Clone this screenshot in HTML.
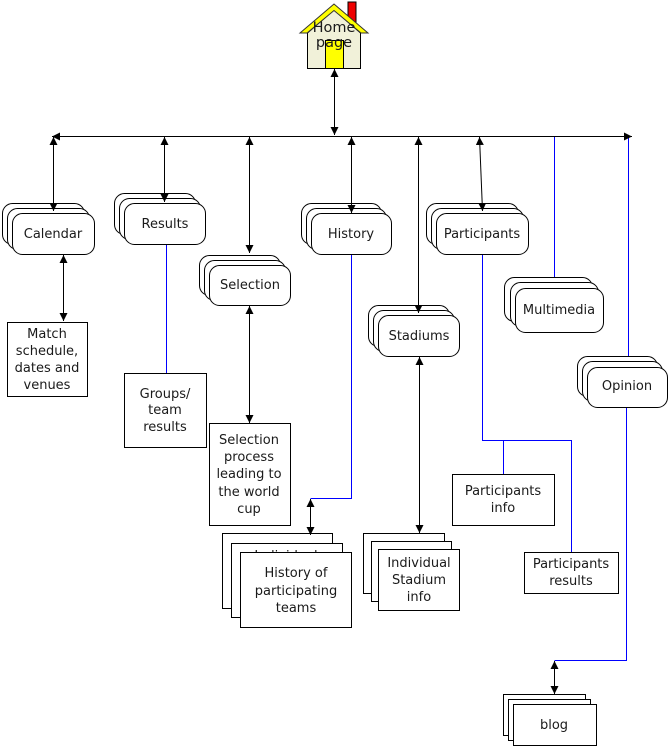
<!DOCTYPE html>
<html><head><meta charset="utf-8"><style>
html,body{margin:0;padding:0;background:#fff;}
svg{display:block;}
text{font-family:"DejaVu Sans","Liberation Sans",sans-serif;font-size:13px;fill:#1a1a1a;text-anchor:middle;}
.b{fill:#fff;stroke:#000;stroke-width:1;}
.l{stroke:#000;stroke-width:1;fill:none;}
.u{stroke:#0000ff;stroke-width:1;fill:none;}
</style></head><body>
<svg width="669" height="747" viewBox="0 0 669 747" xmlns="http://www.w3.org/2000/svg">
<defs>
<marker id="ae" markerUnits="userSpaceOnUse" markerWidth="8" markerHeight="8" viewBox="0 0 8 8" refX="8" refY="4" orient="auto"><path d="M0,0 L8,4 L0,8 z" fill="#000"/></marker>
<marker id="as" markerUnits="userSpaceOnUse" markerWidth="8" markerHeight="8" viewBox="0 0 8 8" refX="0" refY="4" orient="auto"><path d="M8,0 L0,4 L8,8 z" fill="#000"/></marker>
</defs>

<!-- House -->
<rect x="348" y="2" width="8" height="22" fill="#ee0000" stroke="#000"/>
<polygon points="307.5,33 334,10 360.5,33 360.5,68.5 307.5,68.5" fill="#f1f1d9" stroke="#000"/>
<polygon points="300,33 334,4 368,33 361,33 334,10.5 307,33" fill="#ffff00" stroke="#333" stroke-width="1"/>
<rect x="325.5" y="40.5" width="18" height="28" fill="#ffff00" stroke="#000"/>
<text x="334" y="32" style="font-size:14.5px">Home</text>
<text x="334" y="47" style="font-size:14.5px">page</text>

<!-- blue lines -->
<line class="u" x1="554.5" y1="137" x2="554.5" y2="278"/>
<line class="u" x1="628.5" y1="137" x2="628.5" y2="357"/>
<line class="u" x1="615" y1="356.5" x2="628.5" y2="356.5"/>

<!-- Calendar -->
<rect class="b" x="2.5" y="203.5" width="82" height="41" rx="10"/>
<rect class="b" x="7.5" y="208.5" width="82" height="41" rx="10"/>
<rect class="b" x="12.5" y="213.5" width="82" height="41" rx="10"/>
<text x="53" y="238">Calendar</text>

<!-- Results -->
<rect class="b" x="114.5" y="193.5" width="81" height="41" rx="10"/>
<rect class="b" x="119.5" y="198.5" width="81" height="41" rx="10"/>
<rect class="b" x="124.5" y="203.5" width="81" height="41" rx="10"/>
<text x="165" y="228">Results</text>

<!-- Selection -->
<rect class="b" x="199.5" y="255.5" width="81" height="40" rx="10"/>
<rect class="b" x="204.5" y="260.5" width="81" height="40" rx="10"/>
<rect class="b" x="209.5" y="265.5" width="81" height="40" rx="10"/>
<text x="250" y="289">Selection</text>

<!-- History -->
<rect class="b" x="301.5" y="203.5" width="80" height="41" rx="10"/>
<rect class="b" x="306.5" y="208.5" width="80" height="41" rx="10"/>
<rect class="b" x="311.5" y="213.5" width="80" height="41" rx="10"/>
<text x="351" y="238">History</text>

<!-- Participants -->
<rect class="b" x="426.5" y="203.5" width="92" height="41" rx="10"/>
<rect class="b" x="431.5" y="208.5" width="92" height="41" rx="10"/>
<rect class="b" x="436.5" y="213.5" width="92" height="41" rx="10"/>
<text x="482" y="238">Participants</text>

<!-- Multimedia -->
<rect class="b" x="504.5" y="277.5" width="88" height="44" rx="10"/>
<rect class="b" x="510.5" y="282.5" width="88" height="44" rx="10"/>
<rect class="b" x="515.5" y="288.5" width="88" height="44" rx="10"/>
<text x="559" y="314">Multimedia</text>

<!-- Stadiums -->
<rect class="b" x="368.5" y="305.5" width="81" height="41" rx="10"/>
<rect class="b" x="373.5" y="310.5" width="81" height="41" rx="10"/>
<rect class="b" x="378.5" y="315.5" width="81" height="41" rx="10"/>
<text x="419" y="340">Stadiums</text>

<!-- Opinion -->
<rect class="b" x="577.5" y="356.5" width="80" height="40" rx="10"/>
<rect class="b" x="582.5" y="361.5" width="80" height="40" rx="10"/>
<rect class="b" x="587.5" y="367.5" width="80" height="40" rx="10"/>
<text x="627" y="390">Opinion</text>

<!-- Match -->
<rect class="b" x="7.5" y="322.5" width="80" height="74"/>
<text x="47" y="338">Match</text>
<text x="47" y="355">schedule,</text>
<text x="47" y="372">dates and</text>
<text x="47" y="389">venues</text>

<!-- Results -> Groups -->
<line class="u" x1="166.5" y1="245" x2="166.5" y2="373"/>
<rect class="b" x="124.5" y="373.5" width="82" height="74"/>
<text x="165" y="398">Groups/</text>
<text x="165" y="414">team</text>
<text x="165" y="431">results</text>

<!-- Selection process -->
<rect class="b" x="209.5" y="423.5" width="81" height="102"/>
<text x="249" y="444">Selection</text>
<text x="249" y="461">process</text>
<text x="249" y="478">leading to</text>
<text x="249" y="496">the world</text>
<text x="249" y="513">cup</text>

<!-- History -> individual -->
<polyline class="u" points="351.5,255 351.5,498.5 310.5,498.5"/>
<rect class="b" x="222.5" y="533.5" width="110" height="75"/>
<rect class="b" x="231.5" y="543.5" width="111" height="74"/>
<text x="286" y="560">Individual</text>
<rect class="b" x="240.5" y="552.5" width="111" height="75"/>
<text x="296" y="577">History of</text>
<text x="296" y="595">participating</text>
<text x="296" y="612">teams</text>

<!-- Individual stadium -->
<rect class="b" x="363.5" y="533.5" width="81" height="60"/>
<rect class="b" x="371.5" y="541.5" width="80" height="60"/>
<rect class="b" x="378.5" y="549.5" width="81" height="61"/>
<text x="419" y="567">Individual</text>
<text x="419" y="584">Stadium</text>
<text x="419" y="601">info</text>

<!-- Participants -> info/results -->
<polyline class="u" points="482.5,255 482.5,440.5 571.5,440.5 571.5,552"/>
<line class="u" x1="503.5" y1="440.5" x2="503.5" y2="474"/>
<rect class="b" x="452.5" y="474.5" width="102" height="51"/>
<text x="503" y="495">Participants</text>
<text x="503" y="512">info</text>
<rect class="b" x="524.5" y="552.5" width="94" height="41"/>
<text x="571" y="568">Participants</text>
<text x="571" y="585">results</text>

<!-- Opinion -> blog -->
<polyline class="u" points="626.5,408 626.5,660.5 554.5,660.5"/>
<rect class="b" x="503.5" y="694.5" width="82" height="41"/>
<rect class="b" x="508.5" y="699.5" width="82" height="41"/>
<rect class="b" x="513.5" y="704.5" width="83" height="41"/>
<text x="554" y="729">blog</text>

<!-- black arrow lines on top -->
<line class="l" x1="52" y1="136.5" x2="632" y2="136.5" marker-start="url(#as)" marker-end="url(#ae)"/>
<line class="l" x1="334.5" y1="69" x2="334.5" y2="135" marker-start="url(#as)" marker-end="url(#ae)"/>
<line class="l" x1="53.5" y1="137" x2="53.5" y2="211" marker-start="url(#as)" marker-end="url(#ae)"/>
<line class="l" x1="164.5" y1="137" x2="164.5" y2="202" marker-start="url(#as)" marker-end="url(#ae)"/>
<line class="l" x1="249.5" y1="137" x2="249.5" y2="253" marker-start="url(#as)" marker-end="url(#ae)"/>
<line class="l" x1="351.5" y1="137" x2="351.5" y2="213" marker-start="url(#as)" marker-end="url(#ae)"/>
<line class="l" x1="418.5" y1="137" x2="418.5" y2="313" marker-start="url(#as)" marker-end="url(#ae)"/>
<line class="l" x1="479.5" y1="137" x2="482.5" y2="211" marker-start="url(#as)" marker-end="url(#ae)"/>
<line class="l" x1="63.5" y1="255" x2="63.5" y2="321" marker-start="url(#as)" marker-end="url(#ae)"/>
<line class="l" x1="249.5" y1="306" x2="249.5" y2="423" marker-start="url(#as)" marker-end="url(#ae)"/>
<line class="l" x1="310.5" y1="499" x2="310.5" y2="535" marker-start="url(#as)" marker-end="url(#ae)"/>
<line class="l" x1="419.5" y1="357" x2="419.5" y2="533" marker-start="url(#as)" marker-end="url(#ae)"/>
<line class="l" x1="554.5" y1="661" x2="554.5" y2="694" marker-start="url(#as)" marker-end="url(#ae)"/>
</svg>
</body></html>
